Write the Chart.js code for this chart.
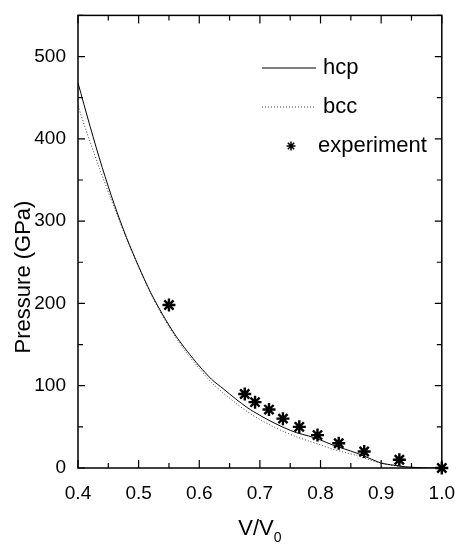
<!DOCTYPE html>
<html>
<head>
<meta charset="utf-8">
<script src="https://cdn.jsdelivr.net/npm/chart.js@4.4.0/dist/chart.umd.min.js"></script>
<style>
  body { margin: 0; background: #fff; }
  #myChart { display: block; }
</style>
</head>
<body>
<canvas id="myChart" width="461" height="546"></canvas>
<script>
// V/V0 values for the calculated curves
var volume = [0.40,0.42,0.44,0.46,0.48,0.50,0.52,0.54,0.56,0.58,0.60,0.62,0.64,0.66,0.68,0.70,0.72,0.74,0.76,0.78,0.80,0.82,0.84,0.86,0.88,0.90,0.92,0.94,0.96,0.98,1.00];
var hcp = [468,415,365,320,280,245,213,186,162,142,124,108,96,84,73,64,56,49,43,39,34,28,23,18,12,6,3.5,1.5,0.5,0,0];
var bcc = [440,396,355,316,279,244,212,184,160,139,121,104,91,79,68,59,51,44,38,33,28,23,19,15,10,6,3,1,0.5,0,0];
// experiment
var expV = [0.55,0.675,0.692,0.715,0.738,0.765,0.795,0.83,0.872,0.93,1.0];
var expP = [198,90,80,71,60,50,40,30,20,10,0];
// axes
var xTicks = [0.4,0.5,0.6,0.7,0.8,0.9,1.0];
var yTicks = [0,100,200,300,400,500];

function pts(xs, ys) {
  return xs.map(function (x, i) { return { x: x, y: ys[i] }; });
}

var fontFam = "'Liberation Sans', Arial, sans-serif";

// frame, inward ticks, axis titles, legend
var decor = {
  id: 'decor',
  afterDraw: function (chart) {
    var c = chart.ctx, a = chart.chartArea;
    var sx = chart.scales.x, sy = chart.scales.y;
    c.save();
    c.strokeStyle = '#000';
    c.lineWidth = 1.5;
    c.strokeRect(a.left, a.top, a.right - a.left, a.bottom - a.top);
    c.lineWidth = 1.2;
    c.beginPath();
    for (var v = 0.4; v <= 1.0001; v += 0.05) {
      var px = sx.getPixelForValue(v);
      var len = (Math.round(v * 100) % 10 === 0) ? 8 : 5;
      c.moveTo(px, a.bottom); c.lineTo(px, a.bottom - len);
      c.moveTo(px, a.top); c.lineTo(px, a.top + len);
    }
    for (var p = 0; p <= 550; p += 50) {
      var py = sy.getPixelForValue(p);
      var l2 = (p % 100 === 0) ? 7 : 5;
      c.moveTo(a.left, py); c.lineTo(a.left + l2, py);
      c.moveTo(a.right, py); c.lineTo(a.right - l2, py);
    }
    c.stroke();

    c.fillStyle = '#000';
    // y axis title
    c.save();
    c.translate(24, 277);
    c.rotate(-Math.PI / 2);
    c.font = '22px ' + fontFam;
    c.textAlign = 'center';
    c.textBaseline = 'middle';
    c.fillText('Pressure (GPa)', 0, 0);
    c.restore();

    // x axis title V/V0
    c.textBaseline = 'alphabetic';
    c.font = '22px ' + fontFam;
    var w1 = c.measureText('V/V').width;
    c.font = '14px ' + fontFam;
    var w2 = c.measureText('0').width;
    var x0 = (a.left + a.right) / 2 - (w1 + w2) / 2;
    c.font = '22px ' + fontFam;
    c.textAlign = 'left';
    c.fillText('V/V', x0, 535);
    c.font = '14px ' + fontFam;
    c.fillText('0', x0 + w1, 542);

    // legend
    c.font = '22px ' + fontFam;
    c.textBaseline = 'middle';
    c.lineWidth = 1;
    c.strokeStyle = '#000';
    c.beginPath(); c.moveTo(262, 68); c.lineTo(316, 68); c.stroke();
    c.fillText('hcp', 323, 68);
    c.strokeStyle = '#444';
    c.setLineDash([1, 2]);
    c.beginPath(); c.moveTo(262, 107); c.lineTo(316, 107); c.stroke();
    c.setLineDash([]);
    c.fillText('bcc', 323, 107);
    c.strokeStyle = '#000';
    c.lineWidth = 1.5;
    c.beginPath();
    var r = 4.5, cx = 291, cy = 146;
    for (var k = 0; k < 4; k++) {
      var ang = k * Math.PI / 4;
      c.moveTo(cx - r * Math.cos(ang), cy - r * Math.sin(ang));
      c.lineTo(cx + r * Math.cos(ang), cy + r * Math.sin(ang));
    }
    c.stroke();
    c.fillText('experiment', 318, 146);
    c.restore();
  }
};

var ctx = document.getElementById("myChart");
var myChart = new Chart(ctx, {
  type: 'scatter',
  data: {
    datasets: [
      {
        label: 'hcp',
        data: pts(volume, hcp),
        showLine: true,
        borderColor: '#000',
        borderWidth: 1,
        pointRadius: 0,
        tension: 0.3,
        fill: false
      },
      {
        label: 'bcc',
        data: pts(volume, bcc),
        showLine: true,
        borderColor: '#444',
        borderWidth: 1,
        borderDash: [1, 2],
        pointRadius: 0,
        tension: 0.3,
        fill: false
      },
      {
        label: 'experiment',
        data: pts(expV, expP),
        showLine: false,
        clip: false,
        pointStyle: 'star',
        pointRadius: 6.5,
        borderColor: '#000',
        backgroundColor: '#000',
        borderWidth: 2.4
      }
    ]
  },
  options: {
    responsive: false,
    animation: false,
    layout: { padding: { top: 13, right: 16, left: 0, bottom: 0 } },
    plugins: { legend: { display: false }, tooltip: { enabled: false } },
    scales: {
      x: {
        type: 'linear',
        min: 0.4,
        max: 1.0,
        grid: { display: false },
        border: { display: false },
        afterBuildTicks: function (s) { s.ticks = xTicks.map(function (v) { return { value: v }; }); },
        afterFit: function (s) { s.height = 78; },
        ticks: {
          color: '#000',
          padding: 6,
          maxRotation: 0,
          font: { family: fontFam, size: 19 },
          callback: function (v) { return Number(v).toFixed(1); }
        }
      },
      y: {
        min: 0,
        max: 550,
        grid: { display: false },
        border: { display: false },
        afterBuildTicks: function (s) { s.ticks = yTicks.map(function (v) { return { value: v }; }); },
        afterFit: function (s) { s.width = 78; },
        ticks: {
          color: '#000',
          padding: 4,
          font: { family: fontFam, size: 19 }
        }
      }
    }
  },
  plugins: [decor]
});
</script>
</body>
</html>
